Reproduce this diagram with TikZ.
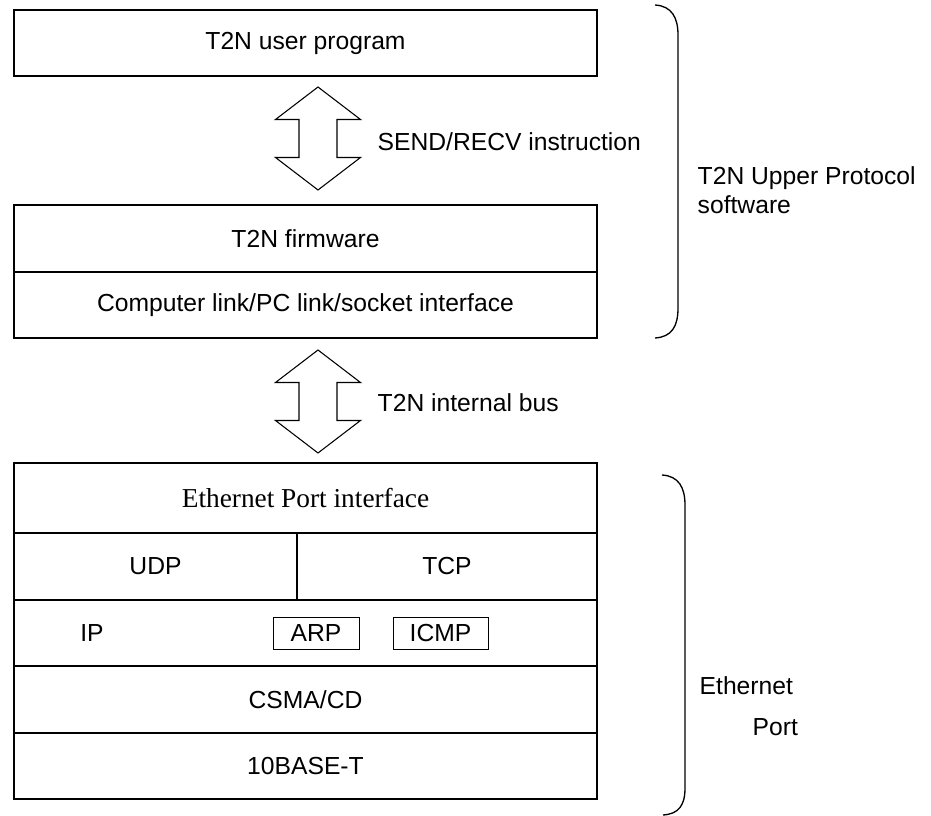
\documentclass[tikz,border=0pt]{standalone}
\usepackage{fontspec}
\setsansfont{Liberation Sans}
\newfontfamily\layerserif{Liberation Serif}
\usetikzlibrary{positioning}

\begin{document}
\begin{tikzpicture}[
    % GLOBAL CFG
    x=0.75pt, y=-0.75pt,
    font=\sffamily\fontsize{18.5}{21.75}\selectfont,
    % Styles
    layer/.style={% For the big protocol layers
        rectangle,
        draw,
        line width=1.2pt,
        inner sep=0pt,
        },
    subbox/.style={% For ARP and ICMP
        rectangle,
        draw,
        line width=0.6pt,
        minimum height=24pt,
        inner sep=0pt,
        },
    bigarrow/.style={% Hollow up-down arrows
        draw,
        line width=0.8pt,
        },
    brace/.style={% Right brackets
        draw,
        line width=1pt,
        },
    mylabel/.style={%
        anchor=west,
        align=left,
        },
    ]

    \useasboundingbox (0,0) rectangle (931,816);

    % Draw the user program
    \node [layer, minimum width=437.25pt, minimum height=49.5pt] (user_prog) at (305.5,43) {T2N user program};

    % Draw the firmware block
    \node [layer, minimum width=437.25pt, minimum height=50.25pt] (firmware) at (305.5,238.5) {T2N firmware};
    \node [layer, minimum width=437.25pt, minimum height=49.5pt] (link_if) at (305.5,305) {Computer link/PC link/socket interface};

    % Draw the Ethernet port stack
    \node [layer, minimum width=437.25pt, minimum height=52.5pt, font=\layerserif\fontsize{20.5}{24}\selectfont] (eth_if) at (305.5,498) {Ethernet Port interface};
    \node [layer, minimum width=212.25pt, minimum height=50.25pt] (udp) at (155.5,566.5) {UDP};
    \node [layer, minimum width=225pt, minimum height=50.25pt] (tcp) at (447,566.5) {TCP};
    \node [layer, minimum width=437.25pt, minimum height=49.5pt] (ip_row) at (305.5,633) {};
    \node (ip) at (92,633) {IP};
    \node [subbox, minimum width=64.5pt] (arp) at (316,633) {ARP};
    \node [subbox, minimum width=71.25pt] (icmp) at (440.5,633) {ICMP};
    \node [layer, minimum width=437.25pt, minimum height=50.25pt] (csma) at (305.5,699.5) {CSMA/CD};
    \node [layer, minimum width=437.25pt, minimum height=49.5pt] (base_t) at (305.5,766) {10BASE-T};

    % Draw the arrows between blocks
    \coordinate (send_arrow) at (318,138.5);
    \coordinate (bus_arrow) at (318,401.5);
    \foreach \a in {send_arrow, bus_arrow}{
        \draw [bigarrow, shift={(\a)}] (0,-51.5) -- (42.5,-19) -- (19,-19) -- (19,19) -- (42.5,19)
            -- (0,51.5) -- (-42.5,19) -- (-19,19) -- (-19,-19) -- (-42.5,-19) -- cycle;
    }
    \node [mylabel] (send_label) at (373,142) {SEND/RECV instruction};
    \node [mylabel] (bus_label) at (373,403) {T2N internal bus};

    % Brackets on the right
    \draw [brace] (655,5) .. controls (672,6) and (678,18) .. (678,35) -- (678,308)
        .. controls (678,326) and (672,337) .. (655,338);
    \draw [brace] (662,475) .. controls (679,476) and (685,488) .. (685,505) -- (685,788)
        .. controls (685,805) and (679,814) .. (663,815);

    \node [mylabel] (upper_label) at (693,190) {T2N Upper Protocol\\software};
    \node [mylabel] (eth_label) at (695,686) {Ethernet};
    \node [mylabel] (port_label) at (748,727) {Port};

\end{tikzpicture}
\end{document}
